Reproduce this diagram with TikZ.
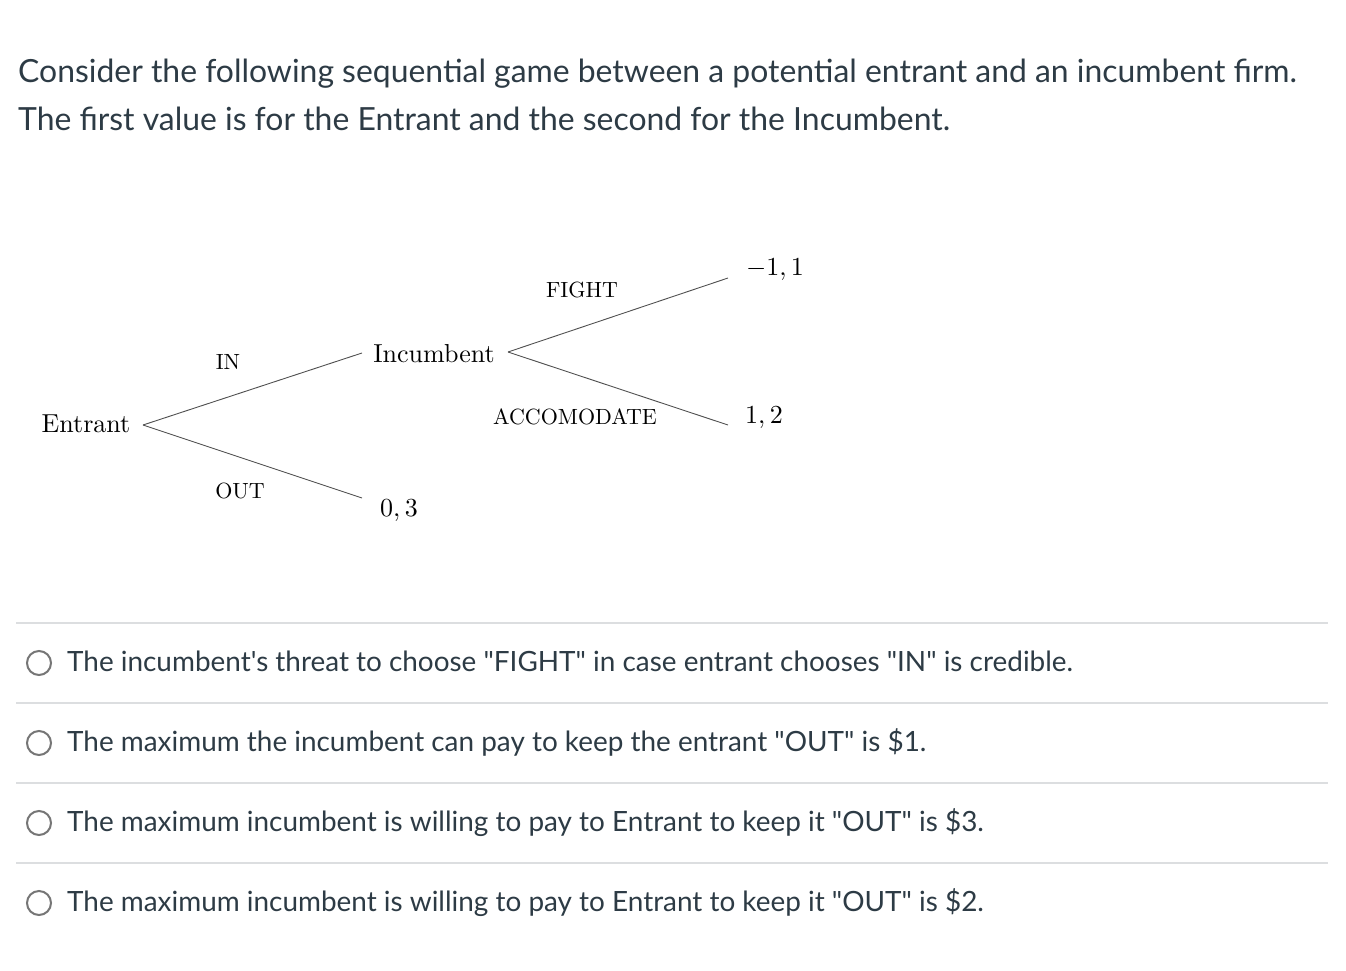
\documentclass[tikz,border=0pt]{standalone}
\usepackage{fontspec}
\newfontfamily\lato{Lato}
\definecolor{txt}{HTML}{2D3B45}
\definecolor{sep}{HTML}{DCDEE0}
\definecolor{radio}{HTML}{767676}
\definecolor{branch}{HTML}{505050}
\newcommand{\treetext}[1]{\scalebox{2.6}{\fontsize{10}{12}\selectfont #1}}
\newcommand{\lbltext}[1]{\scalebox{2.2}{\fontsize{10}{12}\selectfont #1}}
\begin{document}
\begin{tikzpicture}[x=1pt,y=-1pt,
  title/.style={anchor=base west,inner sep=0,text=txt,font=\lato\fontsize{31.9}{38}\selectfont},
  opt/.style={anchor=base west,inner sep=0,text=txt,font=\lato\fontsize{27.9}{33}\selectfont},
  tree/.style={inner sep=0},
  lbl/.style={inner sep=0},
  branchline/.style={draw=branch,line width=0.9pt},
  sepline/.style={draw=sep,line width=2pt},
  radiobtn/.style={circle,draw=radio,line width=2pt,minimum size=24pt,inner sep=0}]
\useasboundingbox (0,0) rectangle (1346,970);
\fill[white] (0,0) rectangle (1346,970);
% title
\node[title] (t1) at (18,82) {Consider the following sequential game between a potential entrant and an incumbent firm.};
\node[title] (t2) at (18,130) {The first value is for the Entrant and the second for the Incumbent.};
% tree
\node[tree] (entrant) at (86,424) {\treetext{Entrant}};
\node[tree] (incumbent) at (434,354) {\treetext{Incumbent}};
\node[tree] (p1) at (775,270) {\treetext{$-1,1$}};
\node[tree] (p2) at (764,418) {\treetext{$1,2$}};
\node[tree] (p3) at (399,511) {\treetext{$0,3$}};
\node[lbl] (lin) at (228,362) {\lbltext{IN}};
\node[lbl] (lout) at (240,491) {\lbltext{OUT}};
\node[lbl] (lfight) at (582,290) {\lbltext{FIGHT}};
\node[lbl] (lacc) at (575,417) {\lbltext{ACCOMODATE}};
\coordinate (ev) at (143,425);
\coordinate (iw) at (362,353);
\coordinate (iv) at (508,352);
\coordinate (ow) at (362,498);
\coordinate (fe) at (728,278);
\coordinate (ae) at (728,425);
\draw[branchline] (ev) -- (iw);
\draw[branchline] (ev) -- (ow);
\draw[branchline] (iv) -- (fe);
\draw[branchline] (iv) -- (ae);
% separators
\foreach \y/\n in {623/s1,703/s2,783/s3,863/s4}{
  \coordinate (\n a) at (16,\y);
  \coordinate (\n b) at (1328,\y);
  \draw[sepline] (\n a) -- (\n b);
}
% options
\node[radiobtn] (r1) at (39,663) {};
\node[radiobtn] (r2) at (39,743) {};
\node[radiobtn] (r3) at (39,823) {};
\node[radiobtn] (r4) at (39,903) {};
\node[opt] (o1) at (67,671) {The incumbent's threat to choose "FIGHT" in case entrant chooses "IN" is credible.};
\node[opt] (o2) at (67,751) {The maximum the incumbent can pay to keep the entrant "OUT" is \$1.};
\node[opt] (o3) at (67,831) {The maximum incumbent is willing to pay to Entrant to keep it "OUT" is \$3.};
\node[opt] (o4) at (67,911) {The maximum incumbent is willing to pay to Entrant to keep it "OUT" is \$2.};
\end{tikzpicture}
\end{document}
